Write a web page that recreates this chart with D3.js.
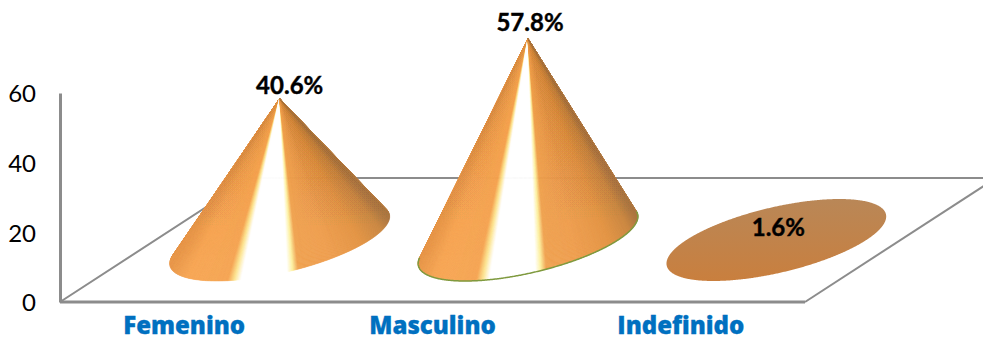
<!DOCTYPE html>
<html>
<head>
<meta charset="utf-8">
<script src="https://cdn.jsdelivr.net/npm/d3@7"></script>
<style>
  html, body { margin: 0; padding: 0; background: #fff; }
  svg { display: block; }
</style>
</head>
<body>
<svg id="chart" width="983" height="337"></svg>
<script>
const categories = ["Femenino", "Masculino", "Indefinido"];
const values = [40.6, 57.8, 1.6];
const valueLabels = ["40.6%", "57.8%", "1.6%"];
const yTicks = [0, 20, 40, 60];

const svg = d3.select("#chart");
const frontLeft = 60, frontRight = 805, floorY = 302, topY = 93;
const depth = { x: 191, y: 124 };          // floor depth projection, front edge to back edge
const x = d3.scaleBand().domain(categories).range([frontLeft, frontRight]);
const y = d3.scaleLinear().domain([0, 60]).range([floorY, topY]);

const greyAxis = "#8c8c8c";

// Floor outline behind the cones
const floor = svg.append("g").attr("fill", "none");
floor.append("path")
  .attr("d", `M${frontLeft},${floorY}L${frontLeft + depth.x},${floorY - depth.y}H983`)
  .attr("stroke", greyAxis).attr("stroke-width", 2);
floor.append("path")
  .attr("d", `M${frontRight},${floorY}L${frontRight + depth.x},${floorY - depth.y}`)
  .attr("stroke", greyAxis).attr("stroke-width", 2);
floor.append("path")
  .attr("d", `M${frontLeft},${floorY}H${frontRight}`)
  .attr("stroke", greyAxis).attr("stroke-width", 3);

// Value axis
const yAxis = svg.append("g")
  .attr("transform", `translate(${frontLeft},0)`)
  .call(d3.axisLeft(y).tickValues(yTicks).tickSize(0).tickPadding(24));
yAxis.select(".domain").attr("stroke", greyAxis).attr("stroke-width", 3);
yAxis.selectAll("text")
  .attr("dy", "0.37em")
  .attr("font-family", "Lato, Carlito, sans-serif")
  .attr("font-size", 24)
  .attr("fill", "#000");

// Category axis
const xAxis = svg.append("g")
  .attr("transform", `translate(0,${floorY})`)
  .call(d3.axisBottom(x).tickSize(0).tickPadding(15));
xAxis.select(".domain").remove();
xAxis.selectAll("text")
  .attr("font-family", "'Open Sans', sans-serif")
  .attr("font-weight", 800)
  .attr("font-size", 24)
  .attr("fill", "#0070c0")
  .attr("stroke", "#0070c0")
  .attr("stroke-width", 0.3);

// Metallic sheen across the cone body, keyed to horizontal position on the base
const sheen = d3.scaleLinear()
  .domain([-1, -0.85, -0.47, -0.41, -0.35, 0.07, 0.12, 0.17, 0.45, 0.75, 0.93, 1])
  .range(["#e8984c", "#f6a553", "#f5a350", "#fce48f", "#ffffff", "#ffffff", "#fdf09e", "#efa04d", "#ee9c4b", "#e2913f", "#c9853f", "#ac7640"]);

const radius = { x: 90, dx: 63, dy: 41 };
const halfWidth = Math.hypot(radius.x, radius.dx);
const baseAt = (cx, cy, t) => [
  cx + radius.x * Math.cos(t) + radius.dx * Math.sin(t),
  cy - radius.dy * Math.sin(t)
];

const defs = svg.append("defs");
const capGradient = defs.append("linearGradient")
  .attr("id", "capFill").attr("x1", 0).attr("y1", 0).attr("x2", 0).attr("y2", 1);
capGradient.append("stop").attr("offset", 0).attr("stop-color", "#b98757");
capGradient.append("stop").attr("offset", 1).attr("stop-color", "#c97f3e");

const cones = svg.append("g");
categories.forEach((name, i) => {
  const cx = x(name) + x.bandwidth() / 2 + depth.x / 2;
  const cy = floorY - depth.y / 2;
  const apex = [cx, y(values[i]) - depth.y / 2];
  const rim = d3.range(0, 360, 0.5).map(d => baseAt(cx, cy, d * Math.PI / 180));
  const hull = d3.polygonHull(rim.concat([apex]));
  const apexIndex = hull.findIndex(p => p[0] === apex[0] && p[1] === apex[1]);
  const g = cones.append("g");

  if (apexIndex < 0) {
    // Tip falls inside the base outline: only the flat disc shows
    g.append("path").attr("d", d3.line()(hull) + "Z").attr("fill", "url(#capFill)");
    return;
  }

  // Visible rim, walked from one tangent point to the other
  const front = hull.slice(apexIndex + 1).concat(hull.slice(0, apexIndex));
  const offset = p => (p[0] - cx) / halfWidth;

  d3.pairs(front).forEach(([a, b]) => {
    const c = sheen((offset(a) + offset(b)) / 2);
    g.append("path")
      .attr("d", d3.line()([apex, a, b]) + "Z")
      .attr("fill", c).attr("stroke", c).attr("stroke-width", 0.5);
  });

  // Darkening toward the tip, fixed to the cone's own height so nested flanks line up
  const shadeId = "tipShade" + i;
  const shade = defs.append("linearGradient")
    .attr("id", shadeId).attr("gradientUnits", "userSpaceOnUse")
    .attr("x1", cx).attr("y1", apex[1]).attr("x2", cx).attr("y2", cy);
  shade.append("stop").attr("offset", 0).attr("stop-color", "#7a4a1c").attr("stop-opacity", 0.2);
  shade.append("stop").attr("offset", 1).attr("stop-color", "#7a4a1c").attr("stop-opacity", 0);

  // Nested flank overlays build the shading up gradually away from the white band
  const steps = d3.range(0, 1, 0.1);
  steps.forEach(s => {
    [front.filter(p => offset(p) < -0.55 - s * 0.3), front.filter(p => offset(p) > 0.2 + s * 0.3)].forEach(flank => {
      g.append("path")
        .attr("d", d3.line()([apex, ...flank]) + "Z")
        .attr("fill", `url(#${shadeId})`)
        .attr("fill-opacity", 1 / steps.length);
    });
  });

  if (name === "Masculino") {
    g.append("path")
      .attr("d", d3.line()(front))
      .attr("fill", "none").attr("stroke", "#7f9a3f").attr("stroke-width", 1.5);
  }
});

// Value labels
const labelDx = [10, 2, 2];
const labelDy = [-5, -8, 2];
svg.append("g").selectAll("text")
  .data(valueLabels)
  .join("text")
  .attr("x", (d, i) => x(categories[i]) + x.bandwidth() / 2 + depth.x / 2 + labelDx[i])
  .attr("y", (d, i) => y(values[i]) - depth.y / 2 + labelDy[i])
  .attr("text-anchor", "middle")
  .attr("font-family", "Lato, Carlito, sans-serif")
  .attr("font-weight", 700)
  .attr("font-size", 24)
  .attr("fill", "#000")
  .attr("stroke", "#000")
  .attr("stroke-width", 0.4)
  .text(d => d);
</script>
</body>
</html>
